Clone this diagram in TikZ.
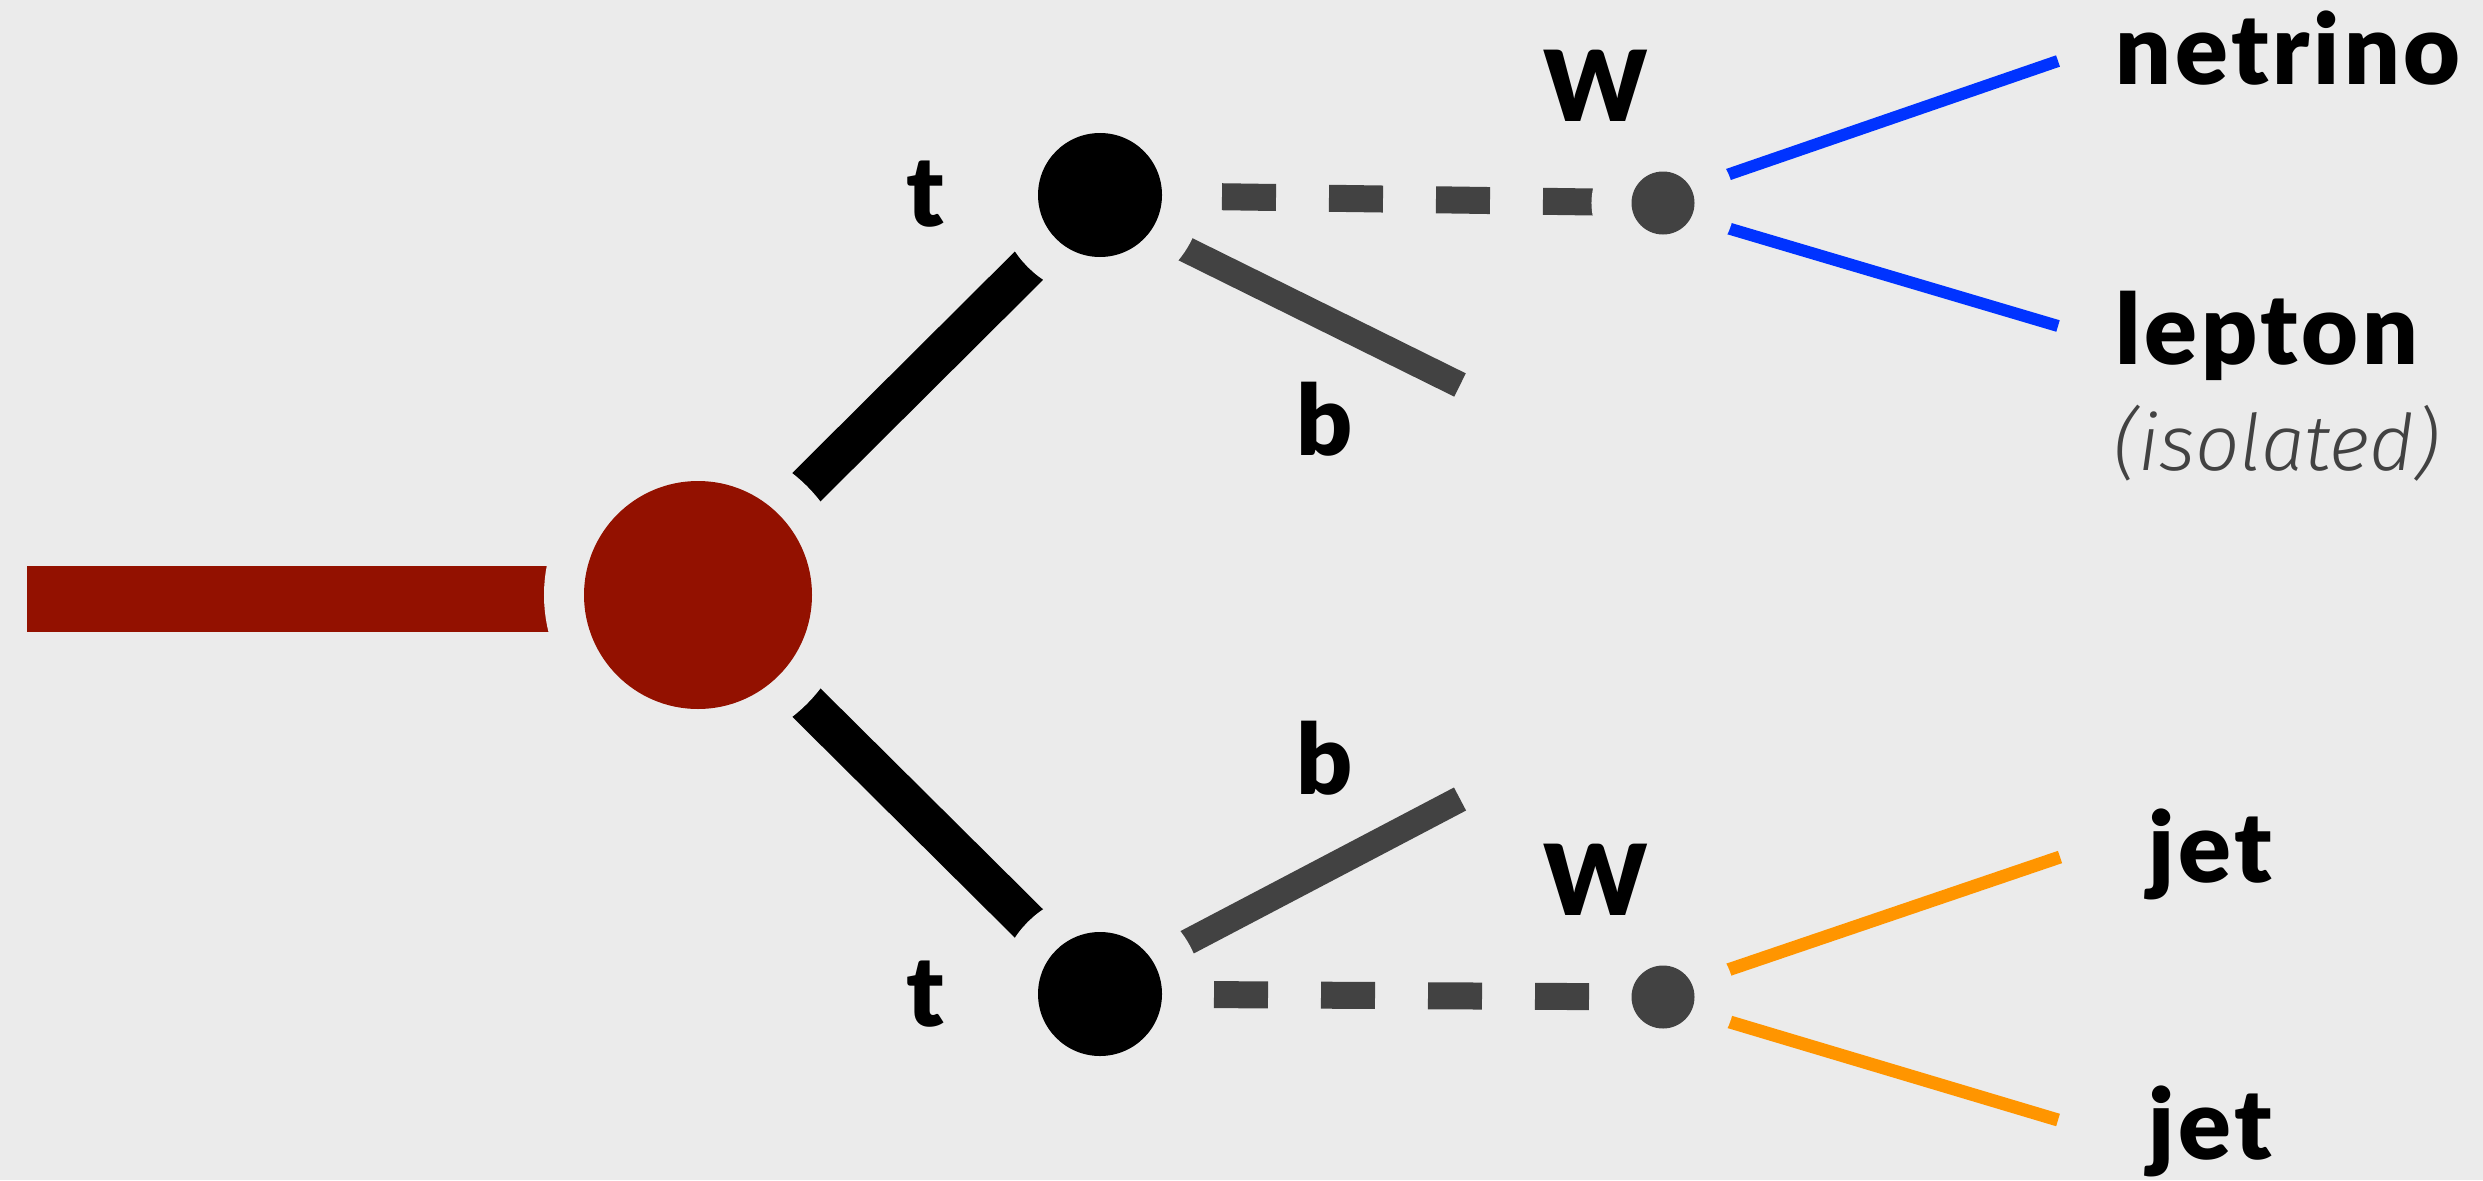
\documentclass[tikz,border=0pt]{standalone}
\usepackage{fontspec}
\usetikzlibrary{calc}

% Heavy sans for the particle names, light italic for the remark
\IfFontExistsTF{Lato Black}
  {\newfontfamily\labelfont{Lato Black}[LetterSpace=4]\newcommand\labelweight{}}
  {\newfontfamily\labelfont{Lato}[LetterSpace=4]\newcommand\labelweight{\bfseries}}
\IfFontExistsTF{Fira Sans Light}
  {\newfontfamily\notefont{Fira Sans Light}}
  {\newfontfamily\notefont{Fira Sans}}

\definecolor{bgc}{RGB}{235,235,235}
\definecolor{topred}{RGB}{147,17,0}
\definecolor{darkg}{RGB}{66,66,66}
\definecolor{nublue}{RGB}{0,51,255}
\definecolor{jetorange}{RGB}{255,149,0}

\pgfdeclarelayer{canvas}
\pgfdeclarelayer{lines}
\pgfsetlayers{canvas,lines,main}

\tikzset{
  vertex/.style={circle, inner sep=0pt,
    preaction={draw=bgc, fill=bgc, line width=80pt}},
  lbl/.style={inner sep=0pt, font=\labelfont\labelweight\fontsize{98}{108}\selectfont},
  note/.style={inner sep=0pt, text=darkg,
    font=\notefont\itshape\fontsize{78}{88}\selectfont},
  redbar/.style={draw=topred, line width=66pt},
  topline/.style={draw=black, line width=40pt},
  bline/.style={draw=darkg, line width=26pt},
  wline/.style={draw=darkg, line width=27pt, dash pattern=on 54pt off 53pt},
  nuline/.style={draw=nublue, line width=12pt},
  jetline/.style={draw=jetorange, line width=13pt},
}

\begin{document}
\begin{tikzpicture}[x=1pt, y=-1pt]
  \begin{pgfonlayer}{canvas}
    \fill[bgc] (0,0) rectangle (2483,1180);
  \end{pgfonlayer}
  \useasboundingbox (0,0) rectangle (2483,1180);

  % vertices
  \node[vertex, fill=topred, minimum size=228pt] (R)  at (698,595)  {};
  \node[vertex, fill=black,  minimum size=124pt] (T1) at (1100,195) {};
  \node[vertex, fill=black,  minimum size=124pt] (T2) at (1100,994) {};
  \node[vertex, fill=darkg,  minimum size=63pt]  (W1) at (1663,203) {};
  \node[vertex, fill=darkg,  minimum size=63pt]  (W2) at (1663,997) {};

  % free ends of the outgoing lines
  \coordinate (src) at (27,599);
  \coordinate (b1)  at (1460,385);
  \coordinate (b2)  at (1460,799);
  \coordinate (nu)  at (2058,61);
  \coordinate (lep) at (2058,326);
  \coordinate (j1)  at (2060,857);
  \coordinate (j2)  at (2058,1120);

  \begin{pgfonlayer}{lines}
    \draw[redbar]  (src) -- (src -| R.center);
    \draw[topline] (R.center) -- (T1.center);
    \draw[topline] (R.center) -- (T2.center);
    \draw[bline]   ($(T1.center)+(0,12)$) -- (b1);
    \draw[bline]   ($(T2.center)+(0,-6)$) -- (b2);
    \draw[wline, dash phase=92pt]  (T1.center) -- (W1.center);
    \draw[wline, dash phase=100pt] (T2.center) -- (W2.center);
    \draw[nuline]  ($(W1.center)+(0,-6)$) -- (nu);
    \draw[nuline]  ($(W1.center)+(0,6)$)  -- (lep);
    \draw[jetline] ($(W2.center)+(0,-5)$) -- (j1);
    \draw[jetline] ($(W2.center)+(0,5)$)  -- (j2);
  \end{pgfonlayer}

  % labels
  \node[lbl, anchor=base] (tlab1) at (925,226)  {t};
  \node[lbl, anchor=base] (tlab2) at (925,1026) {t};
  \node[lbl, anchor=base] (blab1) at (1325,455) {b};
  \node[lbl, anchor=base] (blab2) at (1325,794) {b};
  \node[lbl, anchor=base] (wlab1) at (1596,122) {W};
  \node[lbl, anchor=base] (wlab2) at (1596,915) {W};
  \node[lbl, anchor=base west] (nutext)  at (2115,85)   {netrino};
  \node[lbl, anchor=base west] (leptext) at (2115,364)  {lepton};
  \node[note, anchor=base west] (iso)    at (2113,470)  {(isolated)};
  \node[lbl, anchor=base west] (jet1)    at (2148,882)  {jet};
  \node[lbl, anchor=base west] (jet2)    at (2148,1159) {jet};
\end{tikzpicture}
\end{document}
